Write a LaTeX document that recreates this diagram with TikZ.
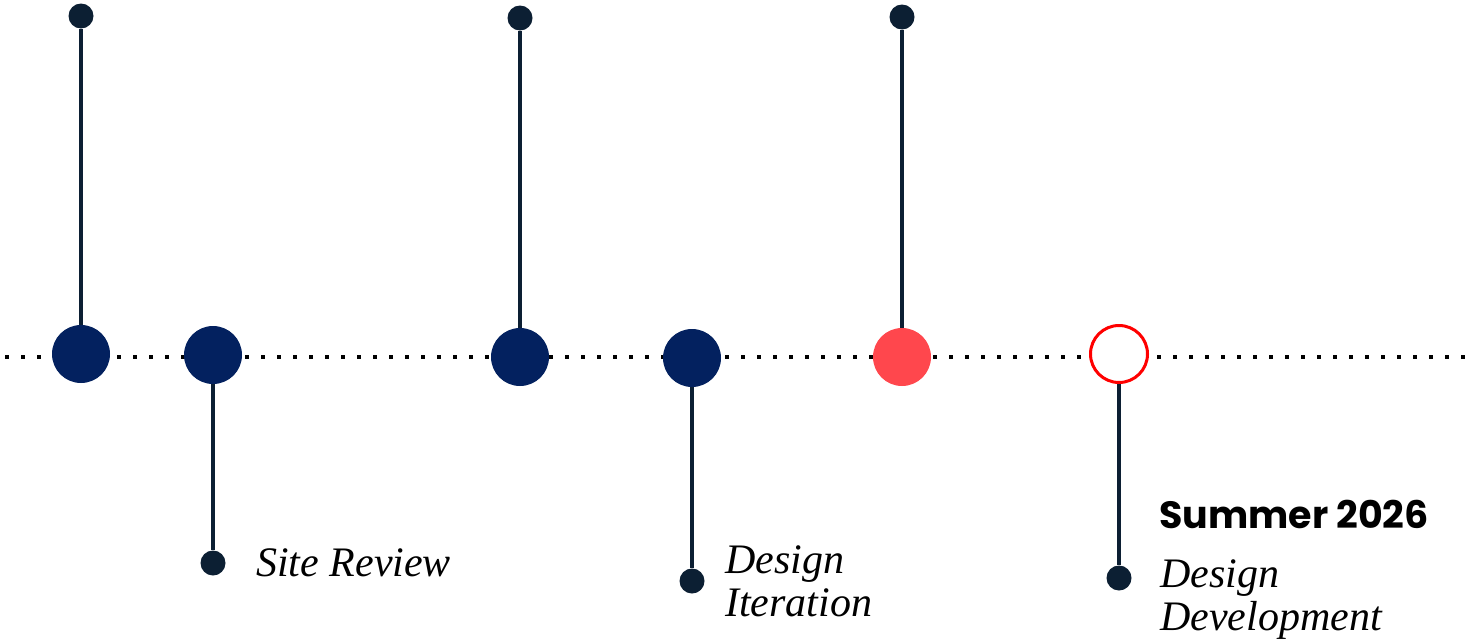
\documentclass[tikz,border=0pt]{standalone}
\usepackage{fontspec}
\setmainfont{Liberation Serif}
\newfontfamily\popfont{Poppins}
\definecolor{navy}{HTML}{03215F}
\definecolor{stem}{HTML}{0C1F33}
\definecolor{coral}{HTML}{FF474D}
\definecolor{pured}{HTML}{FF0000}
\begin{document}
\begin{tikzpicture}[x=1pt,y=-1pt,
  bigdot/.style={circle,inner sep=0pt,minimum size=58pt,fill=navy},
  coraldot/.style={circle,inner sep=0pt,minimum size=58pt,fill=coral},
  opendot/.style={circle,inner sep=0pt,minimum size=57pt,draw=pured,line width=3pt,fill=white},
  enddot/.style={circle,inner sep=0pt,minimum size=25pt,fill=stem},
  stemline/.style={draw=stem,line width=4pt},
  lbl/.style={anchor=base west,inner sep=0pt,font=\fontsize{42}{45}\selectfont\itshape,text=black},
  ttl/.style={anchor=base west,inner sep=0pt,font=\fontsize{38}{40}\selectfont\popfont\bfseries,text=black}]
\useasboundingbox[fill=white] (0,0) rectangle (1468,640);
\coordinate (l0) at (5,357);
\coordinate (l1) at (1468,357);
\draw[line width=4pt,line cap=butt,dash pattern=on 4pt off 12pt,draw=black] (l0) -- (l1);
% end dots
\node[enddot] (t1) at (81,16) {};
\node[enddot] (t3) at (520,18) {};
\node[enddot] (t5) at (902,17) {};
\node[enddot] (b2) at (213,563) {};
\node[enddot] (b4) at (692,581) {};
\node[enddot] (b6) at (1119,578) {};
% main dots
\node[bigdot] (c1) at (81,354) {};
\node[bigdot] (c2) at (213,355) {};
\node[bigdot] (c3) at (520,357) {};
\node[bigdot] (c4) at (692,358) {};
\node[coraldot] (c5) at (902,357) {};
\node[opendot] (c6) at (1119,354) {};
% stems
\draw[stemline] (c1) -- (t1);
\draw[stemline] (c2) -- (b2);
\draw[stemline] (c3) -- (t3);
\draw[stemline] (c4) -- (b4);
\draw[stemline] (c5) -- (t5);
\draw[stemline] (c6) -- (b6);
% labels
\node[lbl] (s1) at (256,576) {Site Review};
\node[lbl] (d1) at (725,573) {Design};
\node[lbl] (d2) at (725,616) {Iteration};
\node[ttl] (su) at (1159,528) {Summer 2026};
\node[lbl] (e1) at (1160,587) {Design};
\node[lbl] (e2) at (1160,630) {Development};
\end{tikzpicture}
\end{document}
